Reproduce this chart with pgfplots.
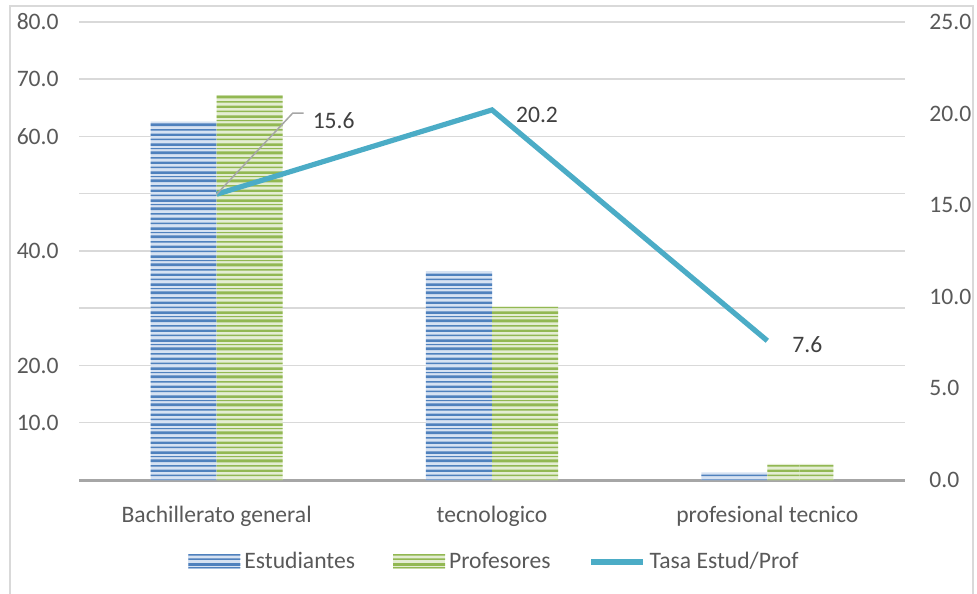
\documentclass[border=0pt]{standalone}
\usepackage{fontspec}
\setmainfont{Carlito}
\usepackage{pgfplots}
\pgfplotsset{compat=1.18}
\usetikzlibrary{patterns.meta}
\definecolor{gridc}{HTML}{D9D9D9}
\definecolor{axisline}{HTML}{A6A6A6}
\definecolor{ticktext}{HTML}{595959}
\definecolor{labtext}{HTML}{404040}
\definecolor{tasa}{HTML}{4BACC6}
\definecolor{bluedark}{HTML}{4F81BD}
\definecolor{bluelight}{HTML}{D6E2F2}
\definecolor{greendark}{HTML}{92B852}
\definecolor{greenlight}{HTML}{E4EDD3}

\pgfdeclarepattern{
  name=xlstripes, type=uncolored,
  bottom left={\pgfpoint{0bp}{0bp}}, top right={\pgfpoint{400bp}{14bp}},
  tile size={\pgfpoint{400bp}{14bp}},
  code={
    \pgfpathrectangle{\pgfpoint{0bp}{0bp}}{\pgfpoint{400bp}{1.4bp}}
    \pgfpathrectangle{\pgfpoint{0bp}{3.0bp}}{\pgfpoint{400bp}{0.8bp}}
    \pgfpathrectangle{\pgfpoint{0bp}{5.2bp}}{\pgfpoint{400bp}{1.2bp}}
    \pgfpathrectangle{\pgfpoint{0bp}{8.0bp}}{\pgfpoint{400bp}{0.7bp}}
    \pgfpathrectangle{\pgfpoint{0bp}{10.2bp}}{\pgfpoint{400bp}{1.5bp}}
    \pgfpathrectangle{\pgfpoint{0bp}{12.8bp}}{\pgfpoint{400bp}{0.6bp}}
    \pgfusepath{fill}
  }
}

\pgfplotsset{
  estud/.style={draw=none, fill=bluelight,
    postaction={pattern=xlstripes, pattern color=bluedark}},
  profs/.style={draw=none, fill=greenlight,
    postaction={pattern=xlstripes, pattern color=greendark}},
  barleg/.style={legend image code/.code={\path[##1] (0bp,-3.75bp) rectangle (26bp,3.75bp);}},
  lineleg/.style={legend image code/.code={\draw[##1] (0bp,0bp) -- (26bp,0bp);}},
}

\begin{document}
\fontsize{11.8bp}{14bp}\selectfont
\begin{tikzpicture}
\useasboundingbox (0,0) rectangle (488.5bp,297bp);
\draw[gridc, line width=0.75bp] (5bp,-10bp) -- (5bp,294bp) -- (486.5bp,294bp) -- (486.5bp,-10bp);

\begin{axis}[
  at={(39.5bp,57bp)}, anchor=south west,
  scale only axis, width=413bp, height=229bp,
  xmin=-0.5, xmax=2.5, ymin=0, ymax=80,
  xtick={0,1,2}, xticklabels={Bachillerato general, tecnologico, profesional tecnico},
  ytick={0,10,...,80}, yticklabels={,10.0,20.0,,40.0,,60.0,70.0,80.0},
  ymajorgrids, grid style={gridc, line width=0.75bp},
  axis x line*=bottom, axis y line*=left,
  x axis line style={axisline, line width=1.5bp, -},
  y axis line style={draw=none},
  major tick length=0pt,
  tick label style={text=ticktext},
  yticklabel style={anchor=east, inner sep=0pt, xshift=-10bp},
  xticklabel style={anchor=base, inner sep=0pt, yshift=-21bp},
  ybar, bar width=0.24,
  clip=false,
]
\addplot[estud, bar shift=-0.12] coordinates {(0,62.6) (1,36.5) (2,1.35)};
\addplot[profs, bar shift=0.12] coordinates {(0,67.2) (1,30.3) (2,2.8)};
\end{axis}

\begin{axis}[
  at={(39.5bp,57bp)}, anchor=south west,
  scale only axis, width=413bp, height=229bp,
  xmin=-0.5, xmax=2.5, ymin=0, ymax=25,
  axis x line=none, xtick=\empty,
  axis y line*=right, y axis line style={draw=none},
  ytick={0,5,...,25}, yticklabels={0.0,5.0,10.0,15.0,20.0,25.0},
  major tick length=0pt,
  yticklabel style={text=ticktext, anchor=west, inner sep=0pt, xshift=12bp},
  clip=false,
  legend style={at={(0.5042,-0.179)}, anchor=center, draw=none, fill=none,
    text=ticktext, nodes={inner sep=2bp},
    /tikz/every even column/.append style={column sep=17bp}},
  legend columns=3,
  legend cell align=left,
]
\addlegendimage{estud, barleg}
\addlegendentry{Estudiantes}
\addlegendimage{profs, barleg}
\addlegendentry{Profesores}
\addplot[tasa, line width=2.6bp, line join=miter, lineleg] coordinates {(0,15.6) (1,20.2) (2,7.6)};
\addlegendentry{Tasa Estud/Prof}
\draw[axisline, line width=0.75bp] (axis cs:0,15.6) -- ++(38bp,40.5bp) -- ++(5.5bp,0bp);
\node[text=labtext, xshift=58.5bp, yshift=37bp] at (axis cs:0,15.6) {15.6};
\node[text=labtext, xshift=22.5bp, yshift=-2.5bp] at (axis cs:1,20.2) {20.2};
\node[text=labtext, xshift=20bp, yshift=-2bp] at (axis cs:2,7.6) {7.6};
\end{axis}
\end{tikzpicture}
\end{document}
